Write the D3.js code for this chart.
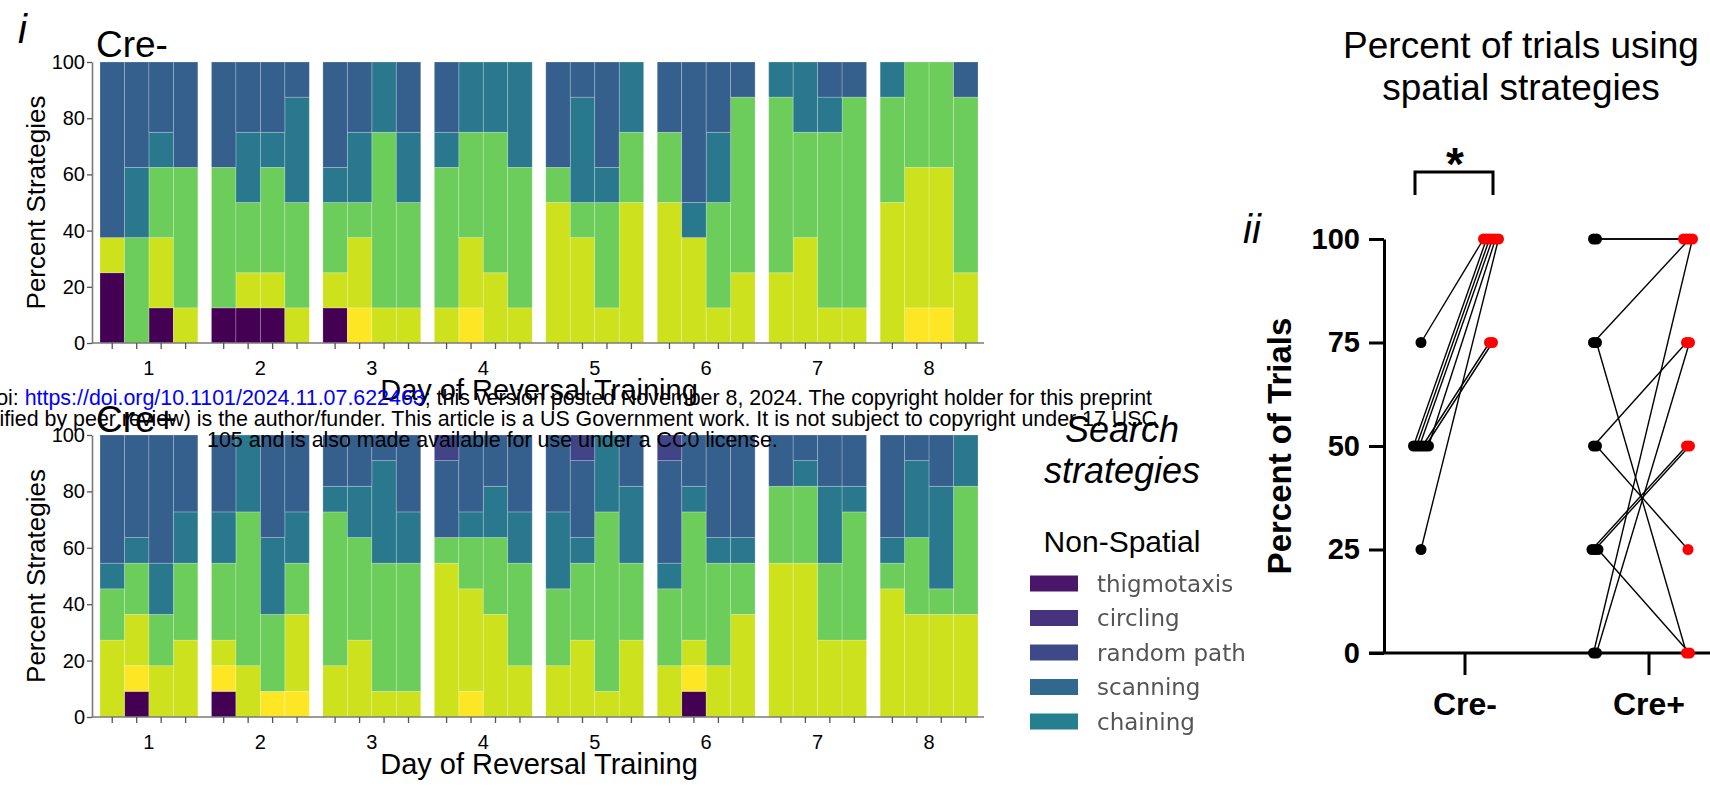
<!DOCTYPE html>
<html>
<head>
<meta charset="utf-8">
<script src="https://cdn.jsdelivr.net/npm/d3@7"></script>
<style>
  html, body { margin: 0; padding: 0; background: #ffffff; }
  svg { display: block; font-family: "Liberation Sans", Arial, sans-serif; }
</style>
</head>
<body>
<svg id="fig" width="1710" height="787"></svg>
<script>
// ---------------------------------------------------------------------------
// Data
// ---------------------------------------------------------------------------

// search strategies in stacking order (bottom -> top)
const strategies = ["thigmotaxis", "direct path", "focal search", "directed search",
                    "chaining", "scanning", "random path", "circling"];
const strategyColors = ["#440154", "#fde725", "#cde11d", "#6ccd5a",
                        "#2a788e", "#355f8d", "#414487", "#482475"];

const days = ["1", "2", "3", "4", "5", "6", "7", "8"];
const trialsPerDay = 4;
const stackTicks = [0, 20, 40, 60, 80, 100];

const creMinusN = 8;
const crePlusN = 11;

// number of animals using each strategy on each trial
// rows: day 1 trial 1 ... day 8 trial 4; columns follow `strategies`
const creMinusCounts = [
  [2,0,1,0,0,5,0,0], [0,0,0,3,2,3,0,0], [1,0,2,2,1,2,0,0], [0,0,1,4,0,3,0,0],
  [1,0,0,4,0,3,0,0], [1,0,1,2,2,2,0,0], [1,0,1,3,1,2,0,0], [0,0,1,3,3,1,0,0],
  [1,0,1,2,1,3,0,0], [0,1,2,1,2,2,0,0], [0,0,1,5,2,0,0,0], [0,0,1,3,2,2,0,0],
  [0,0,1,4,1,2,0,0], [0,1,2,3,2,0,0,0], [0,0,2,4,2,0,0,0], [0,0,1,4,3,0,0,0],
  [0,0,4,1,0,3,0,0], [0,0,3,1,3,1,0,0], [0,0,1,3,1,3,0,0], [0,0,4,2,2,0,0,0],
  [0,0,4,2,0,2,0,0], [0,0,3,0,1,4,0,0], [0,0,1,3,2,2,0,0], [0,0,2,5,0,1,0,0],
  [0,0,2,5,1,0,0,0], [0,0,3,3,2,0,0,0], [0,0,1,5,1,1,0,0], [0,0,1,6,0,1,0,0],
  [0,0,4,3,1,0,0,0], [0,1,4,3,0,0,0,0], [0,1,4,3,0,0,0,0], [0,0,2,5,0,1,0,0]
];

const crePlusCounts = [
  [0,0,3,2,1,5,0,0], [1,1,2,2,1,4,0,0], [0,0,2,2,2,5,0,0], [0,0,3,3,2,3,0,0],
  [1,1,1,3,2,3,0,0], [0,0,2,6,3,0,0,0], [0,1,0,3,3,4,0,0], [0,1,3,2,2,3,0,0],
  [0,0,2,6,1,2,0,0], [0,0,3,4,2,2,0,0], [0,0,1,5,4,1,0,0], [0,0,1,5,2,3,0,0],
  [0,0,6,1,0,3,1,0], [0,1,4,2,1,3,0,0], [0,0,4,3,2,2,0,0], [0,0,2,4,2,3,0,0],
  [0,0,2,3,3,3,0,0], [0,0,3,3,1,3,1,0], [0,0,1,7,3,0,0,0], [0,0,3,3,3,2,0,0],
  [0,0,2,3,1,4,1,0], [1,1,1,5,1,2,0,0], [0,0,2,4,1,4,0,0], [0,0,4,2,1,4,0,0],
  [0,0,6,3,0,2,0,0], [0,0,6,3,1,1,0,0], [0,0,3,3,3,2,0,0], [0,0,3,5,1,2,0,0],
  [0,0,5,1,1,4,0,0], [0,0,4,3,3,1,0,0], [0,0,4,1,4,2,0,0], [0,0,4,5,2,0,0,0]
];

// legend (non-spatial strategies)
const legendLabels = ["thigmotaxis", "circling", "random path", "scanning", "chaining"];
const legendColors = ["#48186a", "#46337e", "#3e4a89", "#31688e", "#277f8e"];

// percent of trials using spatial strategies, one value per animal
const pairGroups = ["Cre-", "Cre+"];
const pairTicks = [0, 25, 50, 75, 100];
const creMinusPre  = [75, 50, 50, 50, 50, 50, 50, 25];
const creMinusPost = [100, 100, 100, 100, 75, 75, 100, 100];
const crePlusPre   = [100, 100, 75, 75, 50, 50, 25, 25, 25, 0, 0];
const crePlusPost  = [100, 100, 100, 0, 75, 25, 50, 50, 0, 100, 75];

// ---------------------------------------------------------------------------
// Drawing
// ---------------------------------------------------------------------------
const svg = d3.select("#fig");
const color = d3.scaleOrdinal().domain(strategies).range(strategyColors);

const defs = svg.append("defs");
defs.append("filter").attr("id", "soft")
  .attr("x", "-10%").attr("y", "-30%").attr("width", "120%").attr("height", "160%")
  .append("feGaussianBlur").attr("stdDeviation", 0.75);

function stackedPanel(counts, n, yTop, yBottom, title, titleBaseline) {
  const g = svg.append("g");
  const x = d3.scaleBand().domain(days).range([100, 978]).paddingInner(0.122);
  const xt = d3.scaleBand().domain(d3.range(trialsPerDay)).range([0, x.bandwidth()]);
  const y = d3.scaleLinear().domain([0, 100]).range([yBottom, yTop]);

  const rows = counts.map((c, i) => {
    const row = { day: days[Math.floor(i / trialsPerDay)], trial: i % trialsPerDay };
    strategies.forEach((s, k) => { row[s] = c[k] / n * 100; });
    return row;
  });
  const series = d3.stack().keys(strategies)(rows);

  g.append("g").selectAll("g")
    .data(series)
    .join("g")
      .attr("fill", d => color(d.key))
    .selectAll("rect")
    .data(d => d.filter(s => s[1] - s[0] > 1e-6))
    .join("rect")
      .attr("x", d => x(d.data.day) + xt(d.data.trial))
      .attr("y", d => y(d[1]))
      .attr("width", xt.bandwidth())
      .attr("height", d => y(d[0]) - y(d[1]))
      .attr("stroke", "rgba(255,255,255,0.28)")
      .attr("stroke-width", 0.8);

  // y axis
  const ya = g.append("g")
    .attr("transform", "translate(92,0)")
    .call(d3.axisLeft(y).tickValues(stackTicks).tickSize(5).tickSizeOuter(0).tickPadding(2));
  ya.select(".domain").attr("stroke", "#7a7a7a").attr("stroke-width", 1.6);
  ya.selectAll(".tick line").attr("stroke", "#555").attr("stroke-width", 1.3);
  ya.selectAll(".tick text").attr("font-size", 20).attr("fill", "#000")
    .attr("font-family", '"Liberation Sans", Arial, sans-serif');

  // x axis: baseline, one tick per trial, day labels
  g.append("line")
    .attr("x1", 92).attr("x2", 984).attr("y1", yBottom).attr("y2", yBottom)
    .attr("stroke", "#7a7a7a").attr("stroke-width", 1.6);
  const trialPos = [];
  days.forEach(dy => d3.range(trialsPerDay).forEach(t =>
    trialPos.push(x(dy) + xt(t) + xt.bandwidth() / 2)));
  g.append("g").selectAll("line").data(trialPos).join("line")
    .attr("x1", d => d).attr("x2", d => d)
    .attr("y1", yBottom).attr("y2", yBottom + 6)
    .attr("stroke", "#555").attr("stroke-width", 1.3);
  g.append("g").selectAll("text").data(days).join("text")
    .attr("x", d => x(d) + x.bandwidth() / 2)
    .attr("y", yBottom + 32)
    .attr("text-anchor", "middle")
    .attr("font-size", 20)
    .text(d => d);

  g.append("text")
    .attr("x", (x.range()[0] + x.range()[1]) / 2)
    .attr("y", yBottom + 57)
    .attr("text-anchor", "middle")
    .attr("font-size", 29)
    .text("Day of Reversal Training");

  g.append("text")
    .attr("transform", `translate(45,${(yTop + yBottom) / 2}) rotate(-90)`)
    .attr("text-anchor", "middle")
    .attr("font-size", 26)
    .text("Percent Strategies");

  g.append("text")
    .attr("x", 96).attr("y", titleBaseline)
    .attr("font-size", 37)
    .text(title);
}

stackedPanel(creMinusCounts, creMinusN, 62, 343, "Cre-", 57);
stackedPanel(crePlusCounts, crePlusN, 435, 717, "Cre+", 432);

// panel label
svg.append("text").attr("x", 18).attr("y", 43)
  .attr("font-size", 40).attr("font-style", "italic").text("i");

// legend
const lg = svg.append("g");
lg.append("text").attr("x", 1122).attr("y", 442).attr("text-anchor", "middle")
  .attr("font-size", 36).attr("font-style", "italic").text("Search");
lg.append("text").attr("x", 1122).attr("y", 483).attr("text-anchor", "middle")
  .attr("font-size", 36).attr("font-style", "italic").text("strategies");
lg.append("text").attr("x", 1122).attr("y", 552).attr("text-anchor", "middle")
  .attr("font-size", 30).text("Non-Spatial");

const legendY = d3.scalePoint().domain(legendLabels).range([583.5, 721.5]);
const items = lg.append("g").attr("filter", "url(#soft)")
  .selectAll("g").data(legendLabels).join("g")
  .attr("transform", d => `translate(0,${legendY(d)})`);
items.append("rect")
  .attr("x", 1030).attr("y", -8).attr("width", 48).attr("height", 16)
  .attr("fill", (d, i) => legendColors[i]);
items.append("text")
  .attr("x", 1097).attr("y", 8)
  .attr("font-family", '"DejaVu Sans", sans-serif')
  .attr("font-size", 23)
  .attr("fill", "#555555")
  .text(d => d);

// ---------------------------------------------------------------------------
// Paired panel: percent of trials using spatial strategies
// ---------------------------------------------------------------------------
const pg = svg.append("g").attr("font-weight", "bold");
const yR = d3.scaleLinear().domain([0, 100]).range([653, 239]);
const xR = d3.scalePoint().domain(pairGroups).range([1465, 1649]);
// horizontal placement of the before / after columns around each group tick
const pairOffsets = { "Cre-": [-44, 26], "Cre+": [-54, 39] };
const dotSpread = 3;

svg.append("text")
  .attr("x", 1521).attr("y", 58).attr("text-anchor", "middle")
  .attr("font-size", 37).text("Percent of trials using");
svg.append("text")
  .attr("x", 1521).attr("y", 100).attr("text-anchor", "middle")
  .attr("font-size", 37).text("spatial strategies");
svg.append("text").attr("x", 1243).attr("y", 243)
  .attr("font-size", 40).attr("font-style", "italic").text("ii");

// y axis
const yaR = pg.append("g")
  .attr("transform", "translate(1384,0)")
  .call(d3.axisLeft(yR).tickValues(pairTicks).tickSize(15).tickSizeOuter(0).tickPadding(9));
yaR.select(".domain").attr("stroke", "#000").attr("stroke-width", 3);
yaR.selectAll(".tick line").attr("stroke", "#000").attr("stroke-width", 3);
yaR.selectAll(".tick text").attr("font-size", 29).attr("fill", "#000")
  .attr("font-family", '"Liberation Sans", Arial, sans-serif').attr("font-weight", "bold");

// x axis
pg.append("line")
  .attr("x1", 1369).attr("x2", 1712).attr("y1", yR(0)).attr("y2", yR(0))
  .attr("stroke", "#000").attr("stroke-width", 3);
pg.append("g").selectAll("line").data(pairGroups).join("line")
  .attr("x1", d => xR(d)).attr("x2", d => xR(d))
  .attr("y1", yR(0)).attr("y2", yR(0) + 22)
  .attr("stroke", "#000").attr("stroke-width", 3);
pg.append("g").selectAll("text").data(pairGroups).join("text")
  .attr("x", d => xR(d)).attr("y", 715)
  .attr("text-anchor", "middle").attr("font-size", 32)
  .text(d => d);

pg.append("text")
  .attr("transform", `translate(1291,${(yR(0) + yR(100)) / 2}) rotate(-90)`)
  .attr("text-anchor", "middle").attr("font-size", 33)
  .text("Percent of Trials");

// significance bracket
pg.append("path")
  .attr("d", "M1415,195 V172 H1493 V195")
  .attr("fill", "none").attr("stroke", "#000").attr("stroke-width", 3);
pg.append("text").attr("x", 1455).attr("y", 180)
  .attr("text-anchor", "middle").attr("font-size", 46).text("*");

// horizontal spread for animals sharing the same value
function spread(values) {
  const seen = {};
  const counts = d3.rollup(values, v => v.length, d => d);
  return values.map(v => {
    seen[v] = (seen[v] || 0);
    const k = counts.get(v);
    const off = (seen[v] - (k - 1) / 2) * dotSpread;
    seen[v] += 1;
    return off;
  });
}

function pairs(group, pre, post) {
  const [o1, o2] = pairOffsets[group];
  const s1 = spread(pre), s2 = spread(post);
  return pre.map((v, i) => ({
    x1: xR(group) + o1 + s1[i], y1: yR(v),
    x2: xR(group) + o2 + s2[i], y2: yR(post[i])
  }));
}
const allPairs = pairs("Cre-", creMinusPre, creMinusPost)
  .concat(pairs("Cre+", crePlusPre, crePlusPost));

pg.append("g").selectAll("line").data(allPairs).join("line")
  .attr("x1", d => d.x1).attr("y1", d => d.y1)
  .attr("x2", d => d.x2).attr("y2", d => d.y2)
  .attr("stroke", "#000").attr("stroke-width", 1.4);
pg.append("g").selectAll("circle").data(allPairs).join("circle")
  .attr("cx", d => d.x1).attr("cy", d => d.y1).attr("r", 5.5).attr("fill", "#000");
pg.append("g").selectAll("circle").data(allPairs).join("circle")
  .attr("cx", d => d.x2).attr("cy", d => d.y2).attr("r", 5.5).attr("fill", "#ff0000");

// ---------------------------------------------------------------------------
// Preprint notice printed across the page
// ---------------------------------------------------------------------------
const note = svg.append("g").attr("font-size", 21.4).attr("fill", "#000");
const l1 = note.append("text").attr("x", 1152).attr("y", 405).attr("text-anchor", "end");
l1.append("tspan").text("bioRxiv preprint doi: ");
l1.append("tspan").attr("fill", "#0000ff").text("https://doi.org/10.1101/2024.11.07.622463");
l1.append("tspan").text("; this version posted November 8, 2024. The copyright holder for this preprint");
note.append("text").attr("x", 1157).attr("y", 426).attr("text-anchor", "end")
  .text("(which was not certified by peer review) is the author/funder. This article is a US Government work. It is not subject to copyright under 17 USC");
note.append("text").attr("x", 207).attr("y", 447).attr("text-anchor", "start")
  .text("105 and is also made available for use under a CC0 license.");
</script>
</body>
</html>
